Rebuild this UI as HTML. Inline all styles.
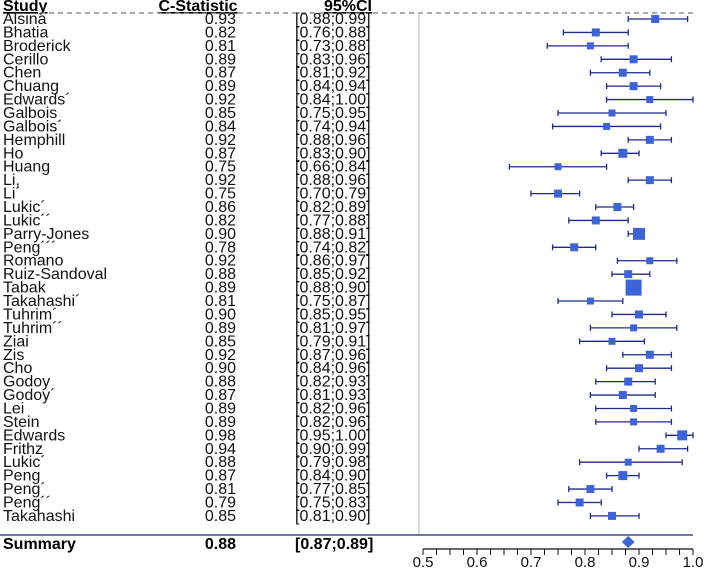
<!DOCTYPE html>
<html><head><meta charset="utf-8"><style>
html,body{margin:0;padding:0;background:#fff;}
svg{display:block;font-family:"Liberation Sans",Arial,sans-serif;}
</style></head><body>
<svg id="chart" width="709" height="570" viewBox="0 0 709 570" xmlns="http://www.w3.org/2000/svg"></svg>
<script>
const studies=["Alsina","Bhatia","Broderick","Cerillo","Chen","Chuang","Edwards´","Galbois","Galbois´","Hemphill","Ho","Huang","Li,","Li´","Lukic´","Lukic´´","Parry-Jones","Peng´´´","Romano","Ruiz-Sandoval","Tabak","Takahashi´","Tuhrim´","Tuhrim´´","Ziai","Zis","Cho","Godoy","Godoy´","Lei","Stein","Edwards","Frithz","Lukic´","Peng","Peng´","Peng´´","Takahashi"];
const cstat=[0.93,0.82,0.81,0.89,0.87,0.89,0.92,0.85,0.84,0.92,0.87,0.75,0.92,0.75,0.86,0.82,0.90,0.78,0.92,0.88,0.89,0.81,0.90,0.89,0.85,0.92,0.90,0.88,0.87,0.89,0.89,0.98,0.94,0.88,0.87,0.81,0.79,0.85];
const lower=[0.88,0.76,0.73,0.83,0.81,0.84,0.84,0.75,0.74,0.88,0.83,0.66,0.88,0.70,0.82,0.77,0.88,0.74,0.86,0.85,0.88,0.75,0.85,0.81,0.79,0.87,0.84,0.82,0.81,0.82,0.82,0.95,0.90,0.79,0.84,0.77,0.75,0.81];
const upper=[0.99,0.88,0.88,0.96,0.92,0.94,1.00,0.95,0.94,0.96,0.90,0.84,0.96,0.79,0.89,0.88,0.91,0.82,0.97,0.92,0.90,0.87,0.95,0.97,0.91,0.96,0.96,0.93,0.93,0.96,0.96,1.00,0.99,0.98,0.90,0.85,0.83,0.90];
const boxSize=[8,8,7,8,8,8,7,7,7,8,9,7,8,8,8,8,12,8,7,8,16,7,8,7,7,8,8,8,8,7,7,10,8,7,9,8,8,8];
const summary=[0.88,0.87,0.89];
const ticks=[0.5,0.6,0.7,0.8,0.9,1.0];

const svg=document.getElementById('chart');
const NS="http://www.w3.org/2000/svg";
const x=v=>423+(v-0.5)*540;
const y=i=>19+i*13.43;
function mk(tag,attrs,text){const e=document.createElementNS(NS,tag);for(const k in attrs)e.setAttribute(k,attrs[k]);if(text!==undefined)e.textContent=text;svg.appendChild(e);return e;}
const f=v=>v.toFixed(2);

let e;
e=mk('text',{x:3,y:11,'font-size':16,'font-weight':'bold','text-decoration':'underline'},'Study');


e=mk('text',{x:198,y:11,'font-size':16,'font-weight':'bold','text-anchor':'middle','text-decoration':'underline'},'C-Statistic');


e=mk('text',{x:372,y:11,'font-size':16,'font-weight':'bold','text-anchor':'end','text-decoration':'underline'},'95%CI');


e=mk('line',{x1:40,y1:13,x2:693,y2:13,stroke:'#777','stroke-width':1.3,'stroke-dasharray':'5,4'});


e=mk('line',{x1:419,y1:13,x2:419,y2:535,stroke:'#ccc','stroke-width':1.5});



studies.forEach((s,i)=>{
  const yy=y(i);
  let t=mk('text',{x:3,y:yy+5,'font-size':16,fill:'#111'},s);
  
  
  t=mk('text',{x:236,y:yy+5,'font-size':16,'text-anchor':'end',fill:'#111'},f(cstat[i]));
  
  
  t=mk('text',{x:295,y:yy+5,'font-size':16,fill:'#111'},'['+f(lower[i])+';'+f(upper[i])+']');
  
  
  const l=mk('line',{x1:x(lower[i]),y1:yy,x2:x(upper[i]),y2:yy,stroke:'#1f2a8a','stroke-width':1.3});
  
  
  [lower[i],upper[i]].forEach(v=>{const c=mk('line',{x1:x(v),y1:yy-3,x2:x(v),y2:yy+3,stroke:'#1f2a8a','stroke-width':1.3});
    
    });
  const b=boxSize[i];
  const r=mk('rect',{x:x(cstat[i])-b/2,y:yy-b/2,width:b,height:b,fill:'#3d64d6'});
  
  
});

e=mk('line',{x1:0,y1:535,x2:693,y2:535,stroke:'#1f2a6a','stroke-width':1.3});


e=mk('text',{x:3,y:549,'font-size':16,'font-weight':'bold'},'Summary');


e=mk('text',{x:236,y:549,'font-size':16,'font-weight':'bold','text-anchor':'end'},f(summary[0]));


e=mk('text',{x:295,y:549,'font-size':16,'font-weight':'bold'},'['+f(summary[1])+';'+f(summary[2])+']');


const sx=x(summary[0]),sy=542;
e=mk('polygon',{points:`${x(summary[1])-1},${sy} ${sx},${sy-6} ${x(summary[2])+1},${sy} ${sx},${sy+6}`,fill:'#3d64d6'});



e=mk('line',{x1:x(0.5),y1:549,x2:x(1.0),y2:549,stroke:'#111','stroke-width':1.2});


for(let k=0;k<=20;k++){const v=0.5+k*0.025;
  const tk=mk('line',{x1:x(v),y1:549,x2:x(v),y2:555,stroke:'#111','stroke-width':1});
  
  }
ticks.forEach(v=>{const t=mk('text',{x:x(v),y:567,'font-size':15,'text-anchor':'middle',fill:'#111'},v.toFixed(1));
  
  });
</script>
</body></html>
